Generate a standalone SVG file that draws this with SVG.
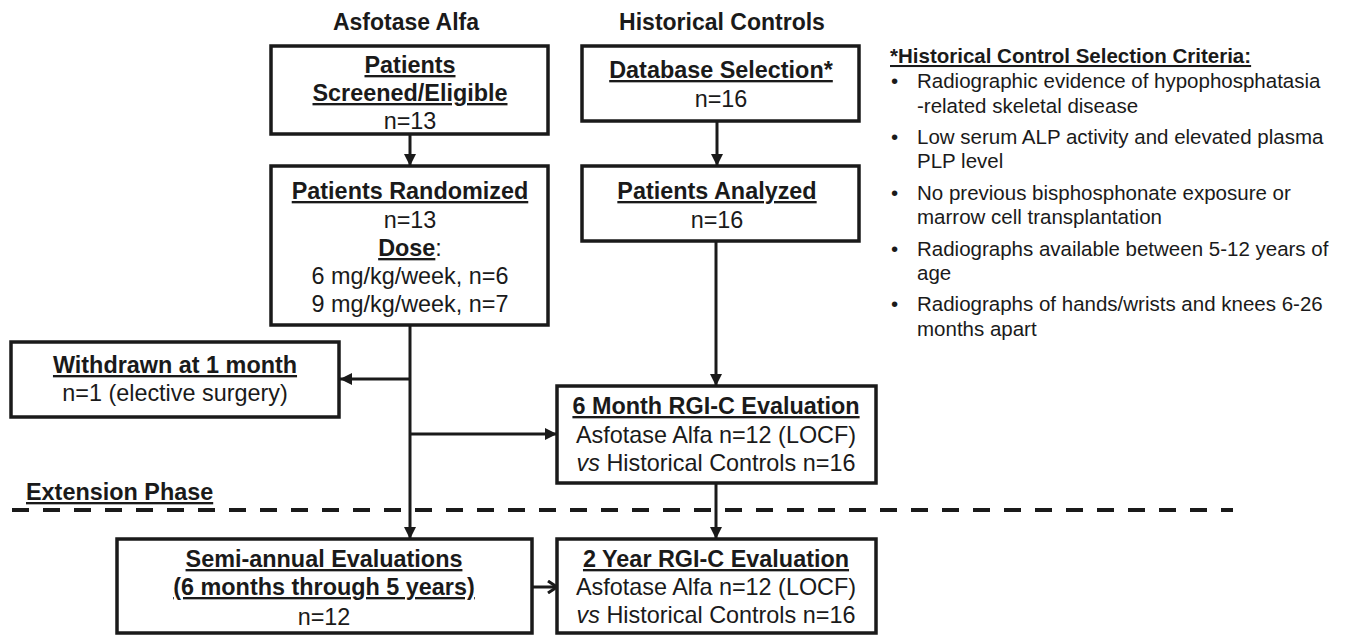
<svg xmlns="http://www.w3.org/2000/svg" width="1345" height="635" viewBox="0 0 1345 635">
<defs>
<style>
text{font-family:"Liberation Sans",Arial,sans-serif;fill:#1a1a1a}
.box{fill:#fff;stroke:#1a1a1a;stroke-width:3.5}
.t{font-size:23.4px;text-anchor:middle}
.b{font-weight:bold;text-decoration:underline}
.h{font-size:23px;font-weight:bold;text-anchor:middle}
.c{font-size:20.5px}
.ln{fill:none;stroke:#1a1a1a;stroke-width:3}
</style>
<marker id="ah" markerWidth="12" markerHeight="12" refX="10" refY="5" orient="auto" markerUnits="userSpaceOnUse" viewBox="0 0 10 10">
<path d="M0,0 L10,5 L0,10 z" fill="#1a1a1a"/>
</marker>
<marker id="oa" markerWidth="12" markerHeight="14" refX="10" refY="7" orient="auto" markerUnits="userSpaceOnUse" viewBox="0 0 12 14">
<path d="M1,1 L10,7 L1,13" fill="none" stroke="#1a1a1a" stroke-width="3"/>
</marker>
</defs>
<rect width="1345" height="635" fill="#fff"/>

<text class="h" x="406" y="30">Asfotase Alfa</text>
<text class="h" x="722" y="30">Historical Controls</text>

<g id="connectors">
<line class="ln" x1="410" y1="134" x2="410" y2="166" marker-end="url(#ah)"/>
<line class="ln" x1="717" y1="121" x2="717" y2="166" marker-end="url(#ah)"/>
<line class="ln" x1="410" y1="325" x2="410" y2="539" marker-end="url(#ah)"/>
<line class="ln" x1="410" y1="379" x2="340" y2="379" marker-end="url(#ah)"/>
<line class="ln" x1="410" y1="434" x2="557" y2="434" marker-end="url(#ah)"/>
<line class="ln" x1="716" y1="241" x2="716" y2="386" marker-end="url(#ah)"/>
<line class="ln" x1="716" y1="483" x2="716" y2="539" marker-end="url(#ah)"/>
<line class="ln" x1="532" y1="587" x2="557" y2="587" marker-end="url(#oa)"/>
</g>

<line x1="12" y1="510" x2="1233" y2="510" stroke="#1a1a1a" stroke-width="4" stroke-dasharray="17 14"/>
<text class="b" x="26" y="500" style="font-size:23.4px">Extension Phase</text>

<g id="screened">
<rect class="box" x="271" y="46" width="277" height="88"/>
<text class="t b" x="410" y="73">Patients</text>
<text class="t b" x="410" y="101">Screened/Eligible</text>
<text class="t" x="410" y="129">n=13</text>
</g>

<g id="randomized">
<rect class="box" x="271" y="166" width="277" height="159"/>
<text class="t b" x="410" y="199">Patients Randomized</text>
<text class="t" x="410" y="228">n=13</text>
<text class="t" x="410" y="256"><tspan class="b">Dose</tspan>:</text>
<text class="t" x="410" y="284">6 mg/kg/week, n=6</text>
<text class="t" x="410" y="312">9 mg/kg/week, n=7</text>
</g>

<g id="database">
<rect class="box" x="582" y="46" width="277" height="75"/>
<text class="t b" x="721" y="78">Database Selection*</text>
<text class="t" x="721" y="107">n=16</text>
</g>

<g id="analyzed">
<rect class="box" x="582" y="166" width="277" height="75"/>
<text class="t b" x="717" y="199">Patients Analyzed</text>
<text class="t" x="717" y="228">n=16</text>
</g>

<g id="withdrawn">
<rect class="box" x="11" y="342" width="328" height="75"/>
<text class="t b" x="175" y="373">Withdrawn at 1 month</text>
<text class="t" x="175" y="401">n=1 (elective surgery)</text>
</g>

<g id="eval6">
<rect class="box" x="557" y="386" width="319" height="97"/>
<text class="t b" x="716" y="414">6 Month RGI-C Evaluation</text>
<text class="t" x="716" y="443">Asfotase Alfa n=12 (LOCF)</text>
<text class="t" x="716" y="471"><tspan font-style="italic">vs</tspan> Historical Controls n=16</text>
</g>

<g id="semiannual">
<rect class="box" x="117" y="539" width="415" height="94"/>
<text class="t b" x="324" y="567">Semi-annual Evaluations</text>
<text class="t b" x="324" y="595">(6 months through 5 years)</text>
<text class="t" x="324" y="625">n=12</text>
</g>

<g id="eval2y">
<rect class="box" x="557" y="539" width="319" height="94"/>
<text class="t b" x="716" y="567">2 Year RGI-C Evaluation</text>
<text class="t" x="716" y="595">Asfotase Alfa n=12 (LOCF)</text>
<text class="t" x="716" y="623"><tspan font-style="italic">vs</tspan> Historical Controls n=16</text>
</g>

<g id="criteria">
<text class="c b" x="890" y="63">*Historical Control Selection Criteria:</text>
<text class="c" x="891" y="88">•</text><text class="c" x="917" y="88">Radiographic evidence of hypophosphatasia</text>
<text class="c" x="917" y="113">-related skeletal disease</text>
<text class="c" x="891" y="144">•</text><text class="c" x="917" y="144">Low serum ALP activity and elevated plasma</text>
<text class="c" x="917" y="168">PLP level</text>
<text class="c" x="891" y="200">•</text><text class="c" x="917" y="200">No previous bisphosphonate exposure or</text>
<text class="c" x="917" y="224">marrow cell transplantation</text>
<text class="c" x="891" y="256">•</text><text class="c" x="917" y="256">Radiographs available between 5-12 years of</text>
<text class="c" x="917" y="280">age</text>
<text class="c" x="891" y="311">•</text><text class="c" x="917" y="311">Radiographs of hands/wrists and knees 6-26</text>
<text class="c" x="917" y="336">months apart</text>
</g>
</svg>
